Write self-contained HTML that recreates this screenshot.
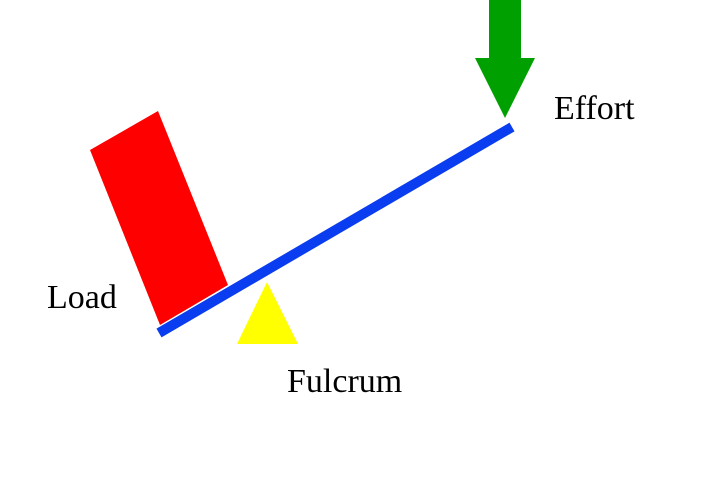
<!DOCTYPE html>
<html><head><style>
html,body{margin:0;padding:0;background:#fff;}
svg{display:block;}
text{font-family:"Liberation Serif",serif;font-size:34px;fill:#000;}
</style></head><body>
<svg width="720" height="480" viewBox="0 0 720 480">
<rect width="720" height="480" fill="#fff"/>
<polygon points="90,150 158,111 228,285 160,325" fill="#ff0000"/>
<line x1="159" y1="333" x2="512" y2="127" stroke="#0a3cf0" stroke-width="10"/>
<polygon points="267,282 237,344 298,344" fill="#ffff00"/>
<polygon points="489,0 521,0 521,58 535,58 505,118 475,58 489,58" fill="#00a000"/>
<text x="554" y="119">Effort</text>
<text x="47" y="308">Load</text>
<text x="287" y="392">Fulcrum</text>
</svg>
</body></html>
